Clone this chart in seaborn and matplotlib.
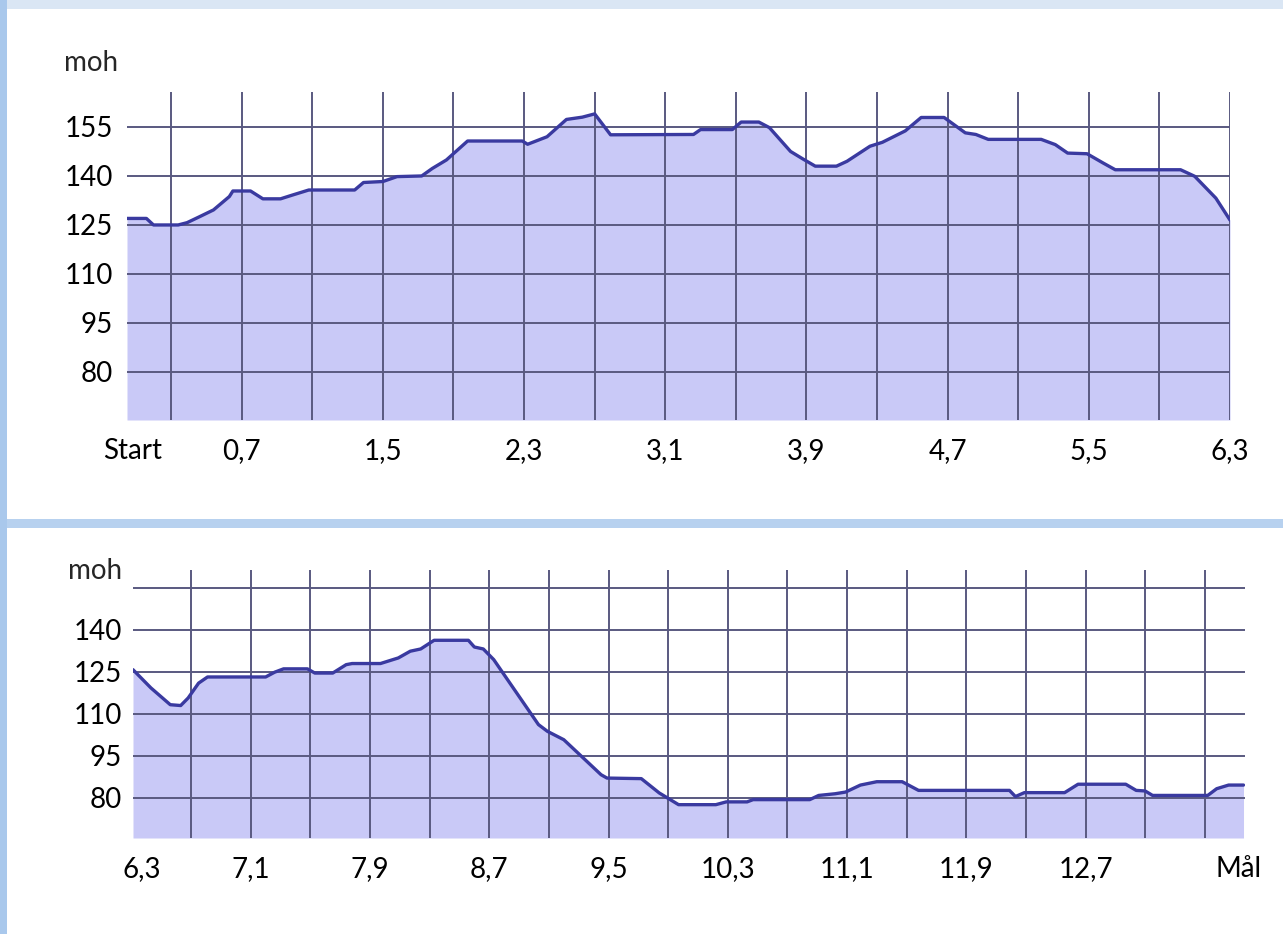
import matplotlib
matplotlib.use("Agg")
import matplotlib.pyplot as plt
from matplotlib.patches import Rectangle
import seaborn as sns

# elevation profile, part 1 (km, metres above sea level)
top_km = [0.05, 0.16, 0.20, 0.34, 0.39, 0.46, 0.54, 0.63, 0.65, 0.75, 0.82, 0.92,
          0.99, 1.08, 1.34, 1.39, 1.50, 1.58, 1.72, 1.78, 1.86, 1.98, 2.29, 2.32,
          2.43, 2.54, 2.63, 2.70, 2.79, 3.26, 3.30, 3.48, 3.53, 3.63, 3.69, 3.81,
          3.88, 3.95, 4.07, 4.13, 4.26, 4.33, 4.46, 4.55, 4.68, 4.80, 4.86, 4.93,
          5.23, 5.31, 5.38, 5.49, 5.58, 5.65, 6.02, 6.10, 6.22, 6.30]
top_moh = [127, 127, 125, 125, 125.7, 127.5, 129.6, 133.7, 135.4, 135.4, 133, 133,
           134.2, 135.7, 135.7, 138, 138.3, 139.8, 140, 142.3, 144.9, 150.7, 150.7, 149.7,
           152, 157.3, 158, 159, 152.6, 152.7, 154.2, 154.2, 156.5, 156.5, 154.8, 147.5,
           145.2, 143, 143, 144.5, 149.1, 150.3, 153.8, 157.9, 157.9, 153.2, 152.7, 151.2,
           151.2, 149.6, 147, 146.8, 144, 141.9, 141.9, 139.9, 133.2, 126.5]

# elevation profile, part 2
bot_km = [6.31, 6.43, 6.56, 6.63, 6.68, 6.75, 6.81, 7.20, 7.26, 7.32, 7.48, 7.53,
          7.65, 7.74, 7.78, 7.97, 8.09, 8.17, 8.24, 8.33, 8.56, 8.60, 8.66, 8.73,
          9.03, 9.09, 9.20, 9.45, 9.49, 9.72, 9.84, 9.97, 10.22, 10.29, 10.43, 10.47,
          10.85, 10.91, 11.02, 11.09, 11.19, 11.30, 11.47, 11.58, 12.19, 12.23, 12.29,
          12.56, 12.65, 12.97, 13.04, 13.10, 13.15, 13.52, 13.58, 13.66, 13.76]
bot_moh = [125.8, 119.3, 113.3, 113, 115.7, 121, 123.2, 123.2, 124.9, 126.1, 126.1, 124.6,
           124.6, 127.6, 128, 128, 130, 132.4, 133.2, 136.3, 136.3, 133.9, 133.2, 129.4,
           106.2, 103.8, 100.8, 88.3, 87.1, 86.9, 81.8, 77.6, 77.6, 78.6, 78.6, 79.4,
           79.4, 80.9, 81.5, 82.1, 84.6, 85.8, 85.8, 82.7, 82.7, 80.5, 81.9,
           81.9, 84.9, 84.9, 82.7, 82.5, 80.9, 80.9, 83.3, 84.6, 84.6]

top_tick_km = [0.08, 0.7, 1.5, 2.3, 3.1, 3.9, 4.7, 5.5, 6.3]
top_tick_labels = ["Start", "0,7", "1,5", "2,3", "3,1", "3,9", "4,7", "5,5", "6,3"]
bot_tick_km = [6.37, 7.1, 7.9, 8.7, 9.5, 10.3, 11.1, 11.9, 12.7, 13.73]
bot_tick_labels = ["6,3", "7,1", "7,9", "8,7", "9,5", "10,3", "11,1", "11,9", "12,7", "Mål"]

y_ticks = [80, 95, 110, 125, 140, 155]
top_y_labels = ["80", "95", "110", "125", "140", "155"]
bot_y_labels = ["80", "95", "110", "125", "140", ""]

top_grid_km = [0.3 + 0.4 * k for k in range(16)]
bot_grid_km = [6.7 + 0.4 * k for k in range(18)]

sns.set_theme(style="white")
plt.rcParams["font.family"] = ["Lato", "DejaVu Sans"]

W, H = 1283, 934
fig = plt.figure(figsize=(W / 100, H / 100), dpi=100)
fig.patch.set_facecolor("#dae6f4")

# white panels + frame pieces (pixel boxes converted to figure fractions)
def px_rect(x0, y0, x1, y1, color):
    fig.add_artist(Rectangle((x0 / W, 1 - y1 / H), (x1 - x0) / W, (y1 - y0) / H,
                             transform=fig.transFigure, facecolor=color,
                             edgecolor="none", zorder=0))

px_rect(7, 9, W, 519, "white")
px_rect(0, 519, W, 528, "#b7d1ef")
px_rect(7, 528, W, H, "white")
px_rect(0, 0, 7, H, "#a9c8ec")

fill_col = "#c9c9f7"
line_col = "#3a3aa0"
grid_col = (0.35, 0.35, 0.5, 0.3)
FS = 20


def draw_panel(box, km, moh, xlim, ylim, grid_km, tick_km, tick_labels, ylabels, ypad):
    ax = fig.add_axes(box)
    ax.set_facecolor("none")
    ax.fill_between(km, moh, ylim[0], color=fill_col, lw=0, zorder=1)
    sns.lineplot(x=km, y=moh, ax=ax, color=line_col, lw=2.4, sort=False, zorder=3)
    ax.xaxis.remove_overlapping_locs = False
    ax.set_xlim(*xlim)
    ax.set_ylim(*ylim)
    ax.set_xticks(tick_km)
    ax.set_xticklabels(tick_labels)
    ax.set_xticks(grid_km, minor=True)
    ax.set_yticks(y_ticks)
    ax.set_yticklabels(ylabels)
    ax.tick_params(axis="both", which="both", length=0, labelsize=FS, colors="black")
    ax.tick_params(axis="x", pad=13)
    ax.tick_params(axis="y", pad=ypad)
    ax.grid(False)
    ax.grid(True, axis="x", which="minor", color=grid_col, lw=1.4, zorder=2)
    ax.grid(True, axis="y", which="major", color=grid_col, lw=1.4, zorder=2)
    ax.set_axisbelow(False)
    for s in ax.spines.values():
        s.set_visible(False)
    ax.set_xlabel("")
    ax.set_ylabel("")
    return ax


ax1 = draw_panel([127 / W, 1 - 420 / H, (1230 - 127) / W, (420 - 92) / H],
                 top_km, top_moh, (0.05, 6.3), (65.3, 165.7),
                 top_grid_km, top_tick_km, top_tick_labels, top_y_labels, 10)
ax2 = draw_panel([133 / W, 1 - 838 / H, (1245 - 133) / W, (838 - 570) / H],
                 bot_km, bot_moh, (6.31, 13.77), (65.7, 161.4),
                 bot_grid_km, bot_tick_km, bot_tick_labels, bot_y_labels, 8)

fig.text(91 / W, 1 - 63 / H, "moh", ha="center", va="center", fontsize=FS)
fig.text(95 / W, 1 - 571 / H, "moh", ha="center", va="center", fontsize=FS)

fig.savefig("out.png", dpi=100, facecolor=fig.get_facecolor())
